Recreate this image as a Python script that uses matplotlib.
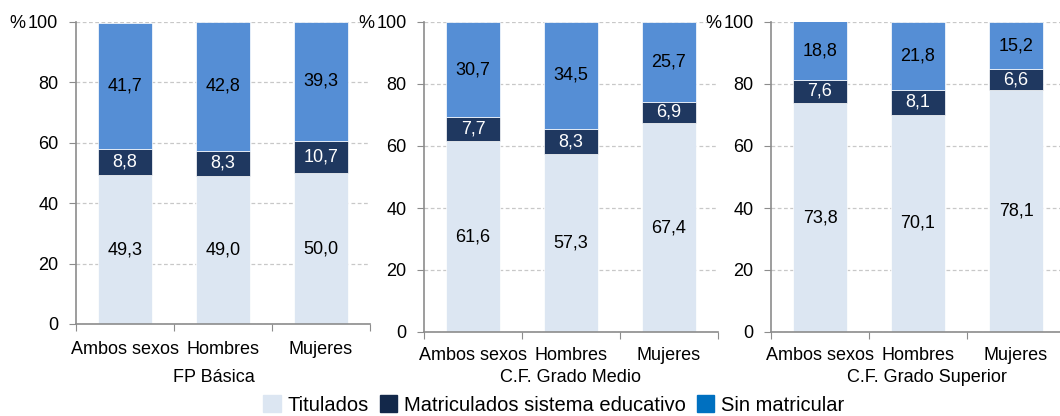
import matplotlib
matplotlib.use("Agg")
import matplotlib.pyplot as plt
import numpy as np
from matplotlib.patches import Patch

plt.rcParams.update({
    "font.family": ["Liberation Sans", "DejaVu Sans"],
    "font.size": 13,
    "text.color": "#000000",
})

C_TIT = "#dce6f2"
C_MAT = "#1f3860"
C_SIN = "#558ed5"
C_MAT_LEG = "#13284a"
C_SIN_LEG = "#0070c0"
AXIS = "#8c8c8c"

categories = ["Ambos sexos", "Hombres", "Mujeres"]
groups = ["FP Básica", "C.F. Grado Medio", "C.F. Grado Superior"]
series = ["Titulados", "Matriculados sistema educativo", "Sin matricular"]

titulados = [[49.3, 49.0, 50.0], [61.6, 57.3, 67.4], [73.8, 70.1, 78.1]]
matriculados = [[8.8, 8.3, 10.7], [7.7, 8.3, 6.9], [7.6, 8.1, 6.6]]
sin_matricular = [[41.7, 42.8, 39.3], [30.7, 34.5, 25.7], [18.8, 21.8, 15.2]]
yticks = [0, 20, 40, 60, 80, 100]

W, H = 1060, 416
fig = plt.figure(figsize=(W / 100, H / 100), dpi=100)

# panel boxes in pixels: left, top, bottom
boxes = [(75.7, 22, 324), (424, 22, 332), (771, 22, 332)]
panel_w = 294
title_x = [214, 571, 927]
tick_y = [348, 355, 355]


def fmt(v):
    return f"{v:.1f}".replace(".", ",")


for i, (lx, top, bot) in enumerate(boxes):
    ax = fig.add_axes([lx / W, 1 - bot / H, panel_w / W, (bot - top) / H])
    x = np.arange(len(categories))
    t = np.array(titulados[i])
    m = np.array(matriculados[i])
    s = np.array(sin_matricular[i])
    kw = dict(width=0.55, edgecolor="white", linewidth=0.5, zorder=2)
    ax.bar(x, t, color=C_TIT, **kw)
    ax.bar(x, m, bottom=t, color=C_MAT, **kw)
    ax.bar(x, s, bottom=t + m, color=C_SIN, **kw)
    for j in range(len(categories)):
        ax.text(x[j], t[j] / 2, fmt(t[j]), ha="center", va="center",
                fontsize=13, color="black", zorder=3)
        ax.text(x[j], t[j] + m[j] / 2, fmt(m[j]), ha="center", va="center",
                fontsize=13, color="white", zorder=3)
        ax.text(x[j], t[j] + m[j] + s[j] / 2, fmt(s[j]), ha="center",
                va="center", fontsize=13, color="black", zorder=3)

    ax.set_xlim(-0.5, 2.5)
    ax.set_ylim(0, 100)
    ax.set_yticks(yticks)
    ax.yaxis.grid(True, color="#c8c8c8", linestyle=(0, (3, 2)), lw=0.9,
                  zorder=0)
    ax.set_axisbelow(True)
    ax.set_xticks([-0.5, 0.5, 1.5, 2.5])
    ax.set_xticklabels([])
    ax.set_xticks(x, minor=True)
    ax.set_xticklabels(categories, minor=True)
    ax.tick_params(axis="x", which="minor", length=0, labelsize=13,
                   pad=(tick_y[i] - bot) - 12)
    ax.tick_params(axis="x", which="major", length=5, color=AXIS,
                   direction="out")
    ax.tick_params(axis="y", length=5, color=AXIS, labelsize=13, pad=7.5)
    for sp in ("top", "right"):
        ax.spines[sp].set_visible(False)
    for sp in ("left", "bottom"):
        ax.spines[sp].set_color(AXIS)
        ax.spines[sp].set_linewidth(1.2)
    fig.text((lx - 58) / W, 1 - (top + 1) / H, "%", ha="center",
             va="center", fontsize=13)
    fig.text(title_x[i] / W, 1 - 377 / H, groups[i], ha="center",
             va="center", fontsize=13)

handles = [Patch(color=C_TIT), Patch(color=C_MAT_LEG), Patch(color=C_SIN_LEG)]
fig.legend(handles, series, loc="center", ncol=3,
           bbox_to_anchor=(554 / W, 1 - 405 / H), frameon=False,
           fontsize=14.5, handlelength=0.85, handleheight=0.85,
           handletextpad=0.35, columnspacing=0.55, borderaxespad=0)

fig.savefig("out.png", dpi=100)
